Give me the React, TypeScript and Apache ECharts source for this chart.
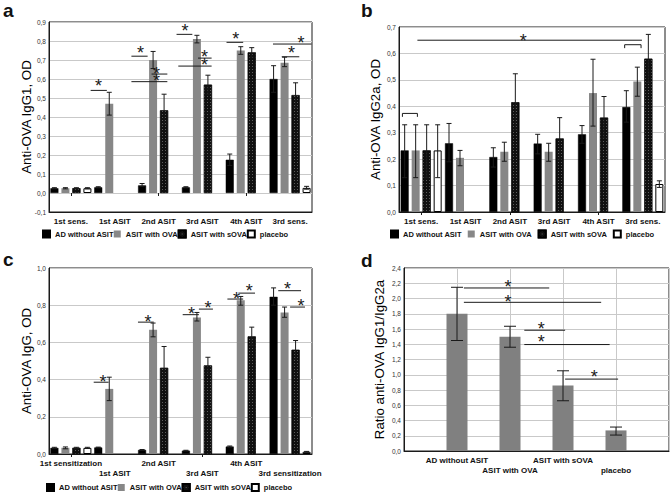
import React, { useEffect, useRef } from 'react';
import * as echarts from 'echarts';

const FONT = 'Arial, "Liberation Sans", Helvetica, sans-serif';
const INK = '#1a1a1a';

const seriesNames = ['AD without ASIT', 'ASIT with OVA', 'ASIT with sOVA', 'placebo'];
const timePointsShort = ['1st sens.', '1st ASIT', '2nd ASIT', '3rd ASIT', '4th ASIT', '3rd sens.'];
const timePointsLong = ['1st sensitization', '1st ASIT', '2nd ASIT', '3rd ASIT', '4th ASIT', '3rd sensitization'];
const ratioGroups = ['AD without ASIT', 'ASIT with OVA', 'ASIT with sOVA', 'placebo'];

// Panel a: anti-OVA IgG1
const igg1AD = [0.025, 0.03, 0.04, 0.03, 0.175, 0.6];
const igg1OVA = [0.025, 0.47, 0.7, 0.81, 0.75, 0.685];
const igg1SOVA = [0.025, null, 0.435, 0.57, 0.74, 0.515];
const igg1Placebo = [0.025, null, null, null, null, 0.027];
const igg1ADErr = [[0.022, 0.028], [0.027, 0.033], [0.035, 0.05], [0.027, 0.033], [0.145, 0.205], [0.53, 0.67]];
const igg1OVAErr = [[0.022, 0.028], [0.41, 0.53], [0.655, 0.745], [0.79, 0.83], [0.73, 0.77], [0.665, 0.715]];
const igg1SOVAErr = [[0.022, 0.028], null, [0.36, 0.52], [0.52, 0.62], [0.715, 0.765], [0.45, 0.58]];
const igg1PlaceboErr = [[0.022, 0.028], null, null, null, null, [0.02, 0.035]];
// [x from, x to (category units), y, star x, star y]
const igg1Sig = [
  [0.95, 1.32, 0.54, 1.13, 0.582],
  [1.88, 2.25, 0.72, 2.09, 0.758],
  [2.34, 2.7, 0.626, 2.45, 0.649],
  [1.88, 2.7, 0.586, 2.45, 0.61],
  [2.91, 3.27, 0.835, 3.1, 0.874],
  [3.4, 3.71, 0.71, 3.55, 0.737],
  [2.95, 3.71, 0.668, 3.55, 0.693],
  [4.05, 4.43, 0.793, 4.26, 0.833],
  [5.31, 5.71, 0.717, 5.53, 0.758],
  [5.11, 5.99, 0.784, 5.75, 0.81],
];

// Panel b: anti-OVA IgG2a
const igg2aAD = [0.233, 0.26, 0.208, 0.259, 0.294, 0.397];
const igg2aOVA = [0.233, 0.205, 0.228, 0.228, 0.45, 0.494];
const igg2aSOVA = [0.233, null, 0.415, 0.278, 0.357, 0.58];
const igg2aPlacebo = [0.233, null, null, null, null, 0.106];
const igg2aADErr = [[0.13, 0.33], [0.19, 0.335], [0.17, 0.243], [0.22, 0.294], [0.26, 0.327], [0.34, 0.459]];
const igg2aOVAErr = [[0.13, 0.33], [0.175, 0.233], [0.192, 0.264], [0.192, 0.26], [0.325, 0.578], [0.438, 0.548]];
const igg2aSOVAErr = [[0.13, 0.33], null, [0.31, 0.523], [0.2, 0.357], [0.28, 0.437], [0.49, 0.672]];
const igg2aPlaceboErr = [[0.13, 0.33], null, null, null, null, [0.093, 0.118]];
const igg2aSig = [[0.415, 5.48, 0.65, 2.8, 0.662]];
// [x from, x to, y, tick depth (value units)]
const igg2aBrackets = [[0.077, 0.415, 0.373, 0.013], [5.09, 5.46, 0.633, 0.013]];

// Panel c: anti-OVA IgG
const iggAD = [0.033, 0.035, 0.022, 0.018, 0.04, 0.845];
const iggOVA = [0.033, 0.35, 0.668, 0.734, 0.826, 0.761];
const iggSOVA = [0.033, null, 0.463, 0.476, 0.632, 0.56];
const iggPlacebo = [0.033, null, null, null, null, 0.012];
const iggADErr = [[0.03, 0.036], [0.033, 0.037], [0.02, 0.024], [0.016, 0.02], [0.037, 0.043], [0.8, 0.893]];
const iggOVAErr = [[0.028, 0.038], [0.287, 0.413], [0.63, 0.704], [0.715, 0.761], [0.8, 0.847], [0.735, 0.79]];
const iggSOVAErr = [[0.03, 0.036], null, [0.35, 0.578], [0.43, 0.52], [0.585, 0.682], [0.51, 0.61]];
const iggPlaceboErr = [[0.03, 0.036], null, null, null, null, [0.01, 0.014]];
const iggSig = [
  [1.02, 1.36, 0.386, 1.23, 0.411],
  [2.03, 2.39, 0.709, 2.26, 0.731],
  [3.05, 3.42, 0.749, 3.25, 0.772],
  [3.42, 3.74, 0.779, 3.63, 0.806],
  [4.07, 4.43, 0.833, 4.28, 0.856],
  [4.32, 4.7, 0.865, 4.57, 0.896],
  [5.23, 5.75, 0.878, 5.44, 0.907],
  [5.5, 5.84, 0.79, 5.75, 0.815],
];

// Panel d: ratio IgG1/IgG2a
const ratioMean = [1.8, 1.5, 0.86, 0.27];
const ratioErr = [[1.449, 2.147], [1.361, 1.636], [0.659, 1.052], [0.209, 0.314]];
const ratioSig = [
  [1.13, 2.74, 2.138, 1.96, 2.204],
  [1.13, 3.72, 1.95, 1.96, 2.007],
  [2.27, 3.04, 1.584, 2.59, 1.649],
  [2.27, 3.88, 1.396, 2.59, 1.475],
  [3.04, 4.04, 0.943, 3.59, 1.017],
];

const BAR_W = 8;
const BAR_STEP = 11;
const STAR = 18;

const barStyles: any[] = [
  { color: '#000000', borderColor: '#000', borderWidth: 0.5 },
  { color: '#878787' },
  {
    color: '#101010',
    borderColor: '#000',
    borderWidth: 0.5,
    decal: {
      symbol: 'rect',
      symbolSize: 1,
      color: 'rgba(255,255,255,0.32)',
      dashArrayX: [1, 2],
      dashArrayY: [1, 2],
      rotation: 0,
    },
  },
  { color: '#ffffff', borderColor: '#000', borderWidth: 1 },
];

const comma = (v: number) => v.toFixed(1).replace('.', ',');

function errorBarItem(slot: number | null, cap: number) {
  return (_p: any, api: any) => {
    const c = api.value(0);
    const p1 = api.coord([c, api.value(1)]);
    const p2 = api.coord([c, api.value(2)]);
    const x = p1[0] + (slot == null ? 0 : (slot - 1.5) * BAR_STEP);
    const st = { stroke: INK, lineWidth: 1 };
    return {
      type: 'group',
      children: [
        { type: 'line', shape: { x1: x, y1: p1[1], x2: x, y2: p2[1] }, style: st },
        { type: 'line', shape: { x1: x - cap, y1: p1[1], x2: x + cap, y2: p1[1] }, style: st },
        { type: 'line', shape: { x1: x - cap, y1: p2[1], x2: x + cap, y2: p2[1] }, style: st },
      ],
    };
  };
}

function sigItem(onBand: boolean, starSize: number) {
  return (_p: any, api: any) => {
    const band = api.size([1, 0])[0];
    const base = api.coord([0, api.value(1)]);
    const ox = base[0] - (onBand ? band / 2 : 0);
    const X = (u: number) => ox + u * band;
    const y = base[1];
    const sx = X(api.value(4));
    const sy = api.coord([0, api.value(5)])[1];
    return {
      type: 'group',
      children: [
        { type: 'line', shape: { x1: X(api.value(2)), y1: y, x2: X(api.value(3)), y2: y }, style: { stroke: INK, lineWidth: 1 } },
        {
          type: 'text',
          x: sx,
          y: sy + starSize * 0.22,
          style: { text: '*', fill: INK, fontSize: starSize, fontFamily: FONT, align: 'center', verticalAlign: 'middle' },
        },
      ],
    };
  };
}

function bracketItem() {
  return (_p: any, api: any) => {
    const band = api.size([1, 0])[0];
    const base = api.coord([0, api.value(1)]);
    const ox = base[0] - band / 2;
    const X = (u: number) => ox + u * band;
    const y = base[1];
    const yb = api.coord([0, api.value(1) - api.value(4)])[1];
    const x1 = X(api.value(2));
    const x2 = X(api.value(3));
    return {
      type: 'polyline',
      shape: { points: [[x1, yb], [x1, y], [x2, y], [x2, yb]] },
      style: { stroke: INK, lineWidth: 1, fill: 'none' },
    };
  };
}

function groupedPanel(values: (number | null)[][], errs: (number[] | null)[][], xIdx: number, yIdx: number, tag: string) {
  const out: any[] = [];
  values.forEach((vals, s) => {
    out.push({
      name: seriesNames[s],
      type: 'bar',
      xAxisIndex: xIdx,
      yAxisIndex: yIdx,
      barWidth: BAR_W,
      barGap: ((BAR_STEP - BAR_W) / BAR_W * 100).toFixed(1) + '%',
      itemStyle: barStyles[s],
      data: vals,
      z: 2,
    });
  });
  errs.forEach((e, s) => {
    out.push({
      name: 'err-' + tag + s,
      type: 'custom',
      xAxisIndex: xIdx,
      yAxisIndex: yIdx,
      renderItem: errorBarItem(s, 2.5),
      encode: { x: 0, y: [1, 2] },
      data: e.map((r, i) => (r ? [i, r[0], r[1]] : null)).filter((r) => r),
      z: 5,
    });
  });
  return out;
}

function sigSeries(sig: number[][], xIdx: number, yIdx: number, onBand: boolean, tag: string, starSize = STAR) {
  return {
    name: 'sig-' + tag,
    type: 'custom',
    xAxisIndex: xIdx,
    yAxisIndex: yIdx,
    renderItem: sigItem(onBand, starSize),
    encode: { x: 0, y: 1 },
    data: sig.map((r) => [0, r[2], r[0], r[1], r[3], r[4]]),
    z: 6,
  };
}

const catAxis = (gridIndex: number, data: string[], stagger: boolean, offsetOdd = 1) => ({
  type: 'category',
  gridIndex,
  data,
  position: 'bottom',
  axisLine: { onZero: false, lineStyle: { color: INK } },
  axisTick: { show: false },
  splitLine: { show: false },
  axisLabel: {
    interval: 0,
    margin: 4,
    fontSize: 8,
    fontWeight: 'bold',
    fontFamily: FONT,
    color: '#111',
    lineHeight: 10,
    formatter: (v: string, i: number) => (stagger && i % 2 === offsetOdd ? '\n' + v : v),
  },
});

const topAxis = (gridIndex: number, data: string[]) => ({
  type: 'category',
  gridIndex,
  data,
  position: 'top',
  axisLine: { show: false },
  axisTick: { show: true, inside: true, length: 3, alignWithLabel: true, lineStyle: { color: INK } },
  axisLabel: { show: false },
  splitLine: { show: false },
});

const valAxis = (gridIndex: number, min: number, max: number, interval: number, name: string, nameGap: number) => ({
  type: 'value',
  gridIndex,
  min,
  max,
  interval,
  name,
  nameLocation: 'middle',
  nameGap,
  nameMoveOverlap: false,
  nameTextStyle: { fontSize: 13.3, fontFamily: FONT, color: '#000' },
  axisLine: { show: true, onZero: false, lineStyle: { color: INK } },
  axisTick: { show: false },
  splitLine: { show: true, lineStyle: { color: '#c9c9c9', width: 1 } },
  axisLabel: { fontSize: 6.5, fontFamily: FONT, color: '#333', margin: 3, formatter: comma },
});

const legendAt = (left: number, top: number, gap: number) => ({
  data: seriesNames.map((n) => ({ name: n, icon: 'rect' })),
  left,
  top,
  orient: 'horizontal',
  itemWidth: 7,
  itemHeight: 7,
  itemGap: gap,
  selectedMode: false,
  padding: 0,
  textStyle: { fontSize: 7.5, fontWeight: 'bold', fontFamily: FONT, color: '#111' },
});

const letter = (t: string, x: number, y: number) => ({
  type: 'text',
  x,
  y,
  style: { text: t, fontSize: 19, fontWeight: 'bold', fontFamily: FONT, fill: '#111', verticalAlign: 'middle' },
});

export default function App() {
  const ref = useRef<HTMLDivElement>(null);
  useEffect(() => {
    if (!ref.current) return;
    const chart = echarts.init(ref.current, undefined, { renderer: 'svg' });
    const ratioAxisData = ['', ...ratioGroups, ''];
    const option: any = {
      animation: false,
      backgroundColor: '#ffffff',
      textStyle: { fontFamily: FONT },
      grid: [
        { left: 49, top: 22, width: 263, height: 190, show: true, borderColor: INK, borderWidth: 1, backgroundColor: 'transparent', outerBoundsMode: 'none' },
        { left: 399, top: 27, width: 266, height: 185, show: true, borderColor: INK, borderWidth: 1, backgroundColor: 'transparent', outerBoundsMode: 'none' },
        { left: 49, top: 268, width: 263, height: 186, show: true, borderColor: INK, borderWidth: 1, backgroundColor: 'transparent', outerBoundsMode: 'none' },
        { left: 404, top: 268, width: 265, height: 183, show: true, borderColor: INK, borderWidth: 1, backgroundColor: 'transparent', outerBoundsMode: 'none' },
      ],
      xAxis: [
        catAxis(0, timePointsShort, false),
        topAxis(0, timePointsShort),
        catAxis(1, timePointsShort, false),
        topAxis(1, timePointsShort),
        catAxis(2, timePointsLong, true, 1),
        topAxis(2, timePointsLong),
        {
          ...catAxis(3, ratioAxisData, true, 0),
          boundaryGap: false,
          splitLine: { show: true, lineStyle: { color: '#c9c9c9', width: 1 } },
        },
      ],
      yAxis: [
        valAxis(0, -0.1, 0.9, 0.1, 'Anti-OVA IgG1, OD', 16),
        valAxis(1, 0, 0.7, 0.1, 'Anti-OVA IgG2a, OD', 17),
        valAxis(2, 0, 1.0, 0.2, 'Anti-OVA IgG, OD', 16),
        valAxis(3, 0, 2.4, 0.2, 'Ratio anti-OVA IgG1/IgG2a', 18),
      ],
      legend: [legendAt(42, 229.5, 0), legendAt(390, 229.5, 6), legendAt(46, 483, 0)],
      graphic: [letter('a', 3, 10.5), letter('b', 361, 10.5), letter('c', 3, 259), letter('d', 361, 260.5)],
      series: [
        ...groupedPanel([igg1AD, igg1OVA, igg1SOVA, igg1Placebo], [igg1ADErr, igg1OVAErr, igg1SOVAErr, igg1PlaceboErr], 0, 0, 'a'),
        sigSeries(igg1Sig, 0, 0, true, 'a'),
        ...groupedPanel([igg2aAD, igg2aOVA, igg2aSOVA, igg2aPlacebo], [igg2aADErr, igg2aOVAErr, igg2aSOVAErr, igg2aPlaceboErr], 2, 1, 'b'),
        sigSeries(igg2aSig, 2, 1, true, 'b'),
        {
          name: 'brackets-b',
          type: 'custom',
          xAxisIndex: 2,
          yAxisIndex: 1,
          renderItem: bracketItem(),
          encode: { x: 0, y: 1 },
          data: igg2aBrackets.map((r) => [0, r[2], r[0], r[1], r[3]]),
          z: 6,
        },
        ...groupedPanel([iggAD, iggOVA, iggSOVA, iggPlacebo], [iggADErr, iggOVAErr, iggSOVAErr, iggPlaceboErr], 4, 2, 'c'),
        sigSeries(iggSig, 4, 2, true, 'c'),
        {
          name: 'ratio',
          type: 'bar',
          xAxisIndex: 6,
          yAxisIndex: 3,
          barWidth: 21,
          itemStyle: { color: '#808080' },
          data: ratioMean.map((v, i) => [i + 1, v]),
          z: 2,
        },
        {
          name: 'ratio-err',
          type: 'custom',
          xAxisIndex: 6,
          yAxisIndex: 3,
          renderItem: errorBarItem(null, 6),
          encode: { x: 0, y: [1, 2] },
          data: ratioErr.map((r, i) => [i + 1, r[0], r[1]]),
          z: 5,
        },
        sigSeries(ratioSig, 6, 3, false, 'd'),
      ],
    };
    chart.setOption(option);
    return () => chart.dispose();
  }, []);
  return (
    <div
      ref={ref}
      style={{ position: 'fixed', left: 0, top: 0, width: 672, height: 495, background: '#fff' }}
    />
  );
}
